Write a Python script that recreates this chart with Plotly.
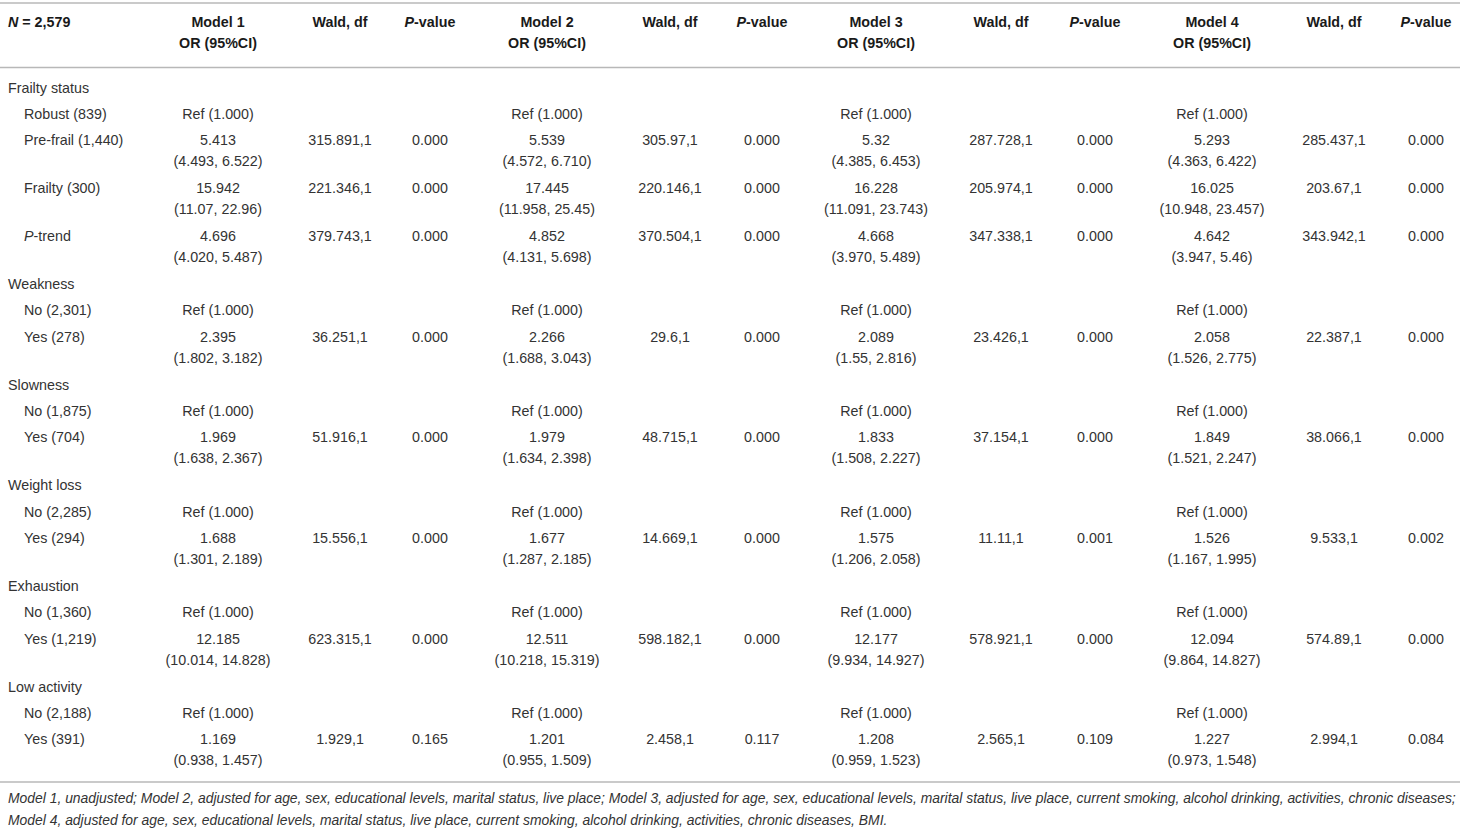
import plotly.graph_objects as go

# ---------------- data ----------------
row_labels = [
    "Frailty status", "Robust (839)", "Pre-frail (1,440)", "Frailty (300)", "<i>P</i>-trend",
    "Weakness", "No (2,301)", "Yes (278)",
    "Slowness", "No (1,875)", "Yes (704)",
    "Weight loss", "No (2,285)", "Yes (294)",
    "Exhaustion", "No (1,360)", "Yes (1,219)",
    "Low activity", "No (2,188)", "Yes (391)",
]
row_is_group = [True, False, False, False, False,
                True, False, False,
                True, False, False,
                True, False, False,
                True, False, False,
                True, False, False]

G = None  # group header row (no values)
REF = "Ref (1.000)"

m1_or = [G, REF, "5.413", "15.942", "4.696", G, REF, "2.395", G, REF, "1.969", G, REF, "1.688", G, REF, "12.185", G, REF, "1.169"]
m1_ci = [G, G, "(4.493, 6.522)", "(11.07, 22.96)", "(4.020, 5.487)", G, G, "(1.802, 3.182)", G, G, "(1.638, 2.367)", G, G, "(1.301, 2.189)", G, G, "(10.014, 14.828)", G, G, "(0.938, 1.457)"]
m1_wald = [G, G, "315.891,1", "221.346,1", "379.743,1", G, G, "36.251,1", G, G, "51.916,1", G, G, "15.556,1", G, G, "623.315,1", G, G, "1.929,1"]
m1_p = [G, G, "0.000", "0.000", "0.000", G, G, "0.000", G, G, "0.000", G, G, "0.000", G, G, "0.000", G, G, "0.165"]

m2_or = [G, REF, "5.539", "17.445", "4.852", G, REF, "2.266", G, REF, "1.979", G, REF, "1.677", G, REF, "12.511", G, REF, "1.201"]
m2_ci = [G, G, "(4.572, 6.710)", "(11.958, 25.45)", "(4.131, 5.698)", G, G, "(1.688, 3.043)", G, G, "(1.634, 2.398)", G, G, "(1.287, 2.185)", G, G, "(10.218, 15.319)", G, G, "(0.955, 1.509)"]
m2_wald = [G, G, "305.97,1", "220.146,1", "370.504,1", G, G, "29.6,1", G, G, "48.715,1", G, G, "14.669,1", G, G, "598.182,1", G, G, "2.458,1"]
m2_p = [G, G, "0.000", "0.000", "0.000", G, G, "0.000", G, G, "0.000", G, G, "0.000", G, G, "0.000", G, G, "0.117"]

m3_or = [G, REF, "5.32", "16.228", "4.668", G, REF, "2.089", G, REF, "1.833", G, REF, "1.575", G, REF, "12.177", G, REF, "1.208"]
m3_ci = [G, G, "(4.385, 6.453)", "(11.091, 23.743)", "(3.970, 5.489)", G, G, "(1.55, 2.816)", G, G, "(1.508, 2.227)", G, G, "(1.206, 2.058)", G, G, "(9.934, 14.927)", G, G, "(0.959, 1.523)"]
m3_wald = [G, G, "287.728,1", "205.974,1", "347.338,1", G, G, "23.426,1", G, G, "37.154,1", G, G, "11.11,1", G, G, "578.921,1", G, G, "2.565,1"]
m3_p = [G, G, "0.000", "0.000", "0.000", G, G, "0.000", G, G, "0.000", G, G, "0.001", G, G, "0.000", G, G, "0.109"]

m4_or = [G, REF, "5.293", "16.025", "4.642", G, REF, "2.058", G, REF, "1.849", G, REF, "1.526", G, REF, "12.094", G, REF, "1.227"]
m4_ci = [G, G, "(4.363, 6.422)", "(10.948, 23.457)", "(3.947, 5.46)", G, G, "(1.526, 2.775)", G, G, "(1.521, 2.247)", G, G, "(1.167, 1.995)", G, G, "(9.864, 14.827)", G, G, "(0.973, 1.548)"]
m4_wald = [G, G, "285.437,1", "203.67,1", "343.942,1", G, G, "22.387,1", G, G, "38.066,1", G, G, "9.533,1", G, G, "574.89,1", G, G, "2.994,1"]
m4_p = [G, G, "0.000", "0.000", "0.000", G, G, "0.000", G, G, "0.000", G, G, "0.002", G, G, "0.000", G, G, "0.084"]

header_line1 = ["<i>N</i> = 2,579",
                "Model 1", "Wald, df", "<i>P</i>-value",
                "Model 2", "Wald, df", "<i>P</i>-value",
                "Model 3", "Wald, df", "<i>P</i>-value",
                "Model 4", "Wald, df", "<i>P</i>-value"]
header_line2 = [None, "OR (95%CI)", None, None, "OR (95%CI)", None, None,
                "OR (95%CI)", None, None, "OR (95%CI)", None, None]

footnote_lines = [
    "Model 1, unadjusted; Model 2, adjusted for age, sex, educational levels, marital status, live place; Model 3, adjusted for age, sex, educational levels, marital status, live place, current smoking, alcohol drinking, activities, chronic diseases;",
    "Model 4, adjusted for age, sex, educational levels, marital status, live place, current smoking, alcohol drinking, activities, chronic diseases, BMI.",
]

# ---------------- layout constants ----------------
W, H = 1460, 831
col_x = [None, 218, 340, 430, 547, 670, 762, 876, 1001, 1095, 1212, 1334, 1426]
group_x, sub_x = 8, 24
first_row_y = 89
single_step, double_step = 26.3, 48.0
second_line_dy = 21
header_y1, header_y2 = 23, 44
line_ys = [3, 67.5, 782]
foot_y0, foot_dy = 800, 22

BODY_FONT = "Liberation Sans, Arial, sans-serif"
body_color = "#333333"
head_color = "#1a1a1a"
fs = 14.3

models = [(m1_or, m1_ci, m1_wald, m1_p), (m2_or, m2_ci, m2_wald, m2_p),
          (m3_or, m3_ci, m3_wald, m3_p), (m4_or, m4_ci, m4_wald, m4_p)]

# row y positions
row_y = []
y = first_row_y
for i in range(len(row_labels)):
    row_y.append(y)
    two_line = m1_ci[i] is not None
    y += double_step if two_line else single_step

fig = go.Figure()

def add_text(xs, ys, texts, pos, size=fs, color=body_color, family=BODY_FONT, weight=None, style=None):
    font = dict(family=family, size=size, color=color)
    if weight is not None:
        font["weight"] = weight
    if style is not None:
        font["style"] = style
    fig.add_trace(go.Scatter(x=xs, y=ys, text=texts, mode="text", textposition=pos,
                             textfont=font, hoverinfo="skip", showlegend=False, cliponaxis=False))

# header
add_text([group_x], [header_y1], [header_line1[0]], "middle right", color=head_color, weight="bold")
add_text(col_x[1:], [header_y1] * 12, header_line1[1:], "middle center", color=head_color, weight="bold")
h2x = [col_x[j] for j in range(1, 13) if header_line2[j] is not None]
h2t = [header_line2[j] for j in range(1, 13) if header_line2[j] is not None]
add_text(h2x, [header_y2] * len(h2x), h2t, "middle center", color=head_color, weight="bold")

# row labels
gx, gy, gt, sx, sy, st = [], [], [], [], [], []
for i, lab in enumerate(row_labels):
    if row_is_group[i]:
        gx.append(group_x); gy.append(row_y[i]); gt.append(lab)
    else:
        sx.append(sub_x); sy.append(row_y[i]); st.append(lab)
add_text(gx, gy, gt, "middle right")
add_text(sx, sy, st, "middle right")

# body values
bx, by, bt = [], [], []
for k, (orv, ci, wald, p) in enumerate(models):
    base = 1 + 3 * k
    for i in range(len(row_labels)):
        if orv[i] is not None:
            bx.append(col_x[base]); by.append(row_y[i]); bt.append(orv[i])
        if ci[i] is not None:
            bx.append(col_x[base]); by.append(row_y[i] + second_line_dy); bt.append(ci[i])
        if wald[i] is not None:
            bx.append(col_x[base + 1]); by.append(row_y[i]); bt.append(wald[i])
        if p[i] is not None:
            bx.append(col_x[base + 2]); by.append(row_y[i]); bt.append(p[i])
add_text(bx, by, bt, "middle center")

# footnote
add_text([group_x] * len(footnote_lines), [foot_y0 + foot_dy * j for j in range(len(footnote_lines))],
         footnote_lines, "middle right", size=13.9, style="italic")

shapes = [dict(type="line", xref="x", yref="y", x0=0, x1=W, y0=ly, y1=ly,
               line=dict(color="#b8b8b8", width=1.5)) for ly in line_ys]

fig.update_layout(
    width=W, height=H,
    margin=dict(l=0, r=0, t=0, b=0),
    paper_bgcolor="white", plot_bgcolor="white",
    xaxis=dict(range=[0, W], visible=False, fixedrange=True),
    yaxis=dict(range=[H, 0], visible=False, fixedrange=True),
    shapes=shapes,
)

fig.write_html("out.html", config={"displayModeBar": False},
               post_script="document.body.style.margin='0';document.body.style.overflow='hidden';")
